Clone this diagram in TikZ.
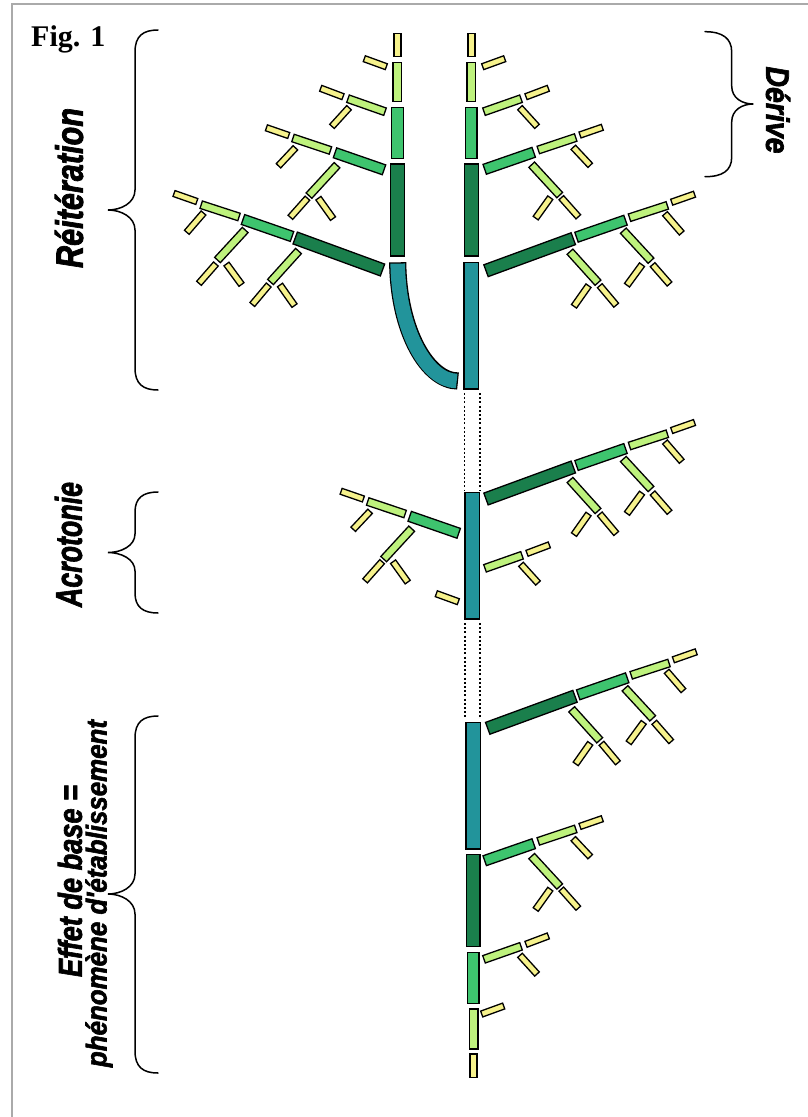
\documentclass[tikz,border=0pt]{standalone}
\usepackage{fontspec}
\setmainfont{Liberation Serif}
\newfontfamily\labfont{Liberation Sans}[BoldItalicFeatures={FakeBold=2.2}]
\usetikzlibrary{calc}
\definecolor{cy}{RGB}{246,242,140}
\definecolor{cl}{RGB}{190,242,125}
\definecolor{cm}{RGB}{62,196,110}
\definecolor{cd}{RGB}{26,127,76}
\definecolor{ct}{RGB}{34,148,155}
\definecolor{framegray}{RGB}{170,170,170}
\tikzset{
  seg/.style={draw=black,line width=1.3pt,line join=miter},
  bracepath/.style={draw=black,line width=1.5pt,line cap=round},
  lab/.style={inner sep=0pt},
  dotline/.style={draw=black,line width=1.9pt,dash pattern=on 1.9pt off 2.3pt}
}
% segment: x1 y1 x2 y2 halfwidth colour
\newcommand\sg[6]{\filldraw[seg,fill=#6] ($(#1,#2)!#5pt!90:(#3,#4)$) -- ($(#1,#2)!#5pt!-90:(#3,#4)$) -- ($(#3,#4)!#5pt!90:(#1,#2)$) -- ($(#3,#4)!#5pt!-90:(#1,#2)$) -- cycle;}
\newcommand\brY{\sg{0}{0}{22}{-8}{3.1}{cy}}
\newcommand\brL{%
  \sg{0}{0}{37}{-13}{3.9}{cl}%
  \sg{42}{-15}{64.3}{-23.4}{3.1}{cy}%
  \sg{36}{-4}{53}{14.7}{3.1}{cy}}
\newcommand\brM{%
  \sg{0}{0}{49}{-17}{5.2}{cm}%
  \sg{53.6}{-19.3}{91}{-31.8}{3.9}{cl}%
  \sg{95.3}{-34.3}{117.6}{-42}{3.1}{cy}%
  \sg{88.6}{-22}{105.5}{-4}{3.1}{cy}%
  \sg{47}{-4.6}{75}{25.8}{3.9}{cl}%
  \sg{65.6}{28.4}{51}{48.8}{3.1}{cy}%
  \sg{76.6}{28.4}{93.6}{47.5}{3.1}{cy}}
\newcommand\brD{%
  \sg{0}{0}{87.3}{-32}{6.3}{cd}%
  \sg{90.5}{-33.5}{139.5}{-50.5}{5.2}{cm}%
  \sg{143.5}{-53}{181.3}{-65.3}{3.9}{cl}%
  \sg{185.7}{-68.5}{208.5}{-76.5}{3.1}{cy}%
  \sg{179}{-57}{195.7}{-37.7}{3.1}{cy}%
  \sg{137.3}{-40}{165}{-10}{3.9}{cl}%
  \sg{156}{-6}{141}{14.5}{3.1}{cy}%
  \sg{166.6}{-6}{183.5}{13.3}{3.1}{cy}%
  \sg{84}{-19}{112}{12}{3.9}{cl}%
  \sg{102.5}{15}{88}{35.6}{3.1}{cy}%
  \sg{113.8}{15}{130.2}{34.5}{3.1}{cy}}
\begin{document}
\begin{tikzpicture}[x=1pt,y=-1pt]
\useasboundingbox (0,0) rectangle (808,1117);
\fill[white] (0,0) rectangle (808,1117);
\draw[framegray,line width=2pt] (12,1117) -- (12,4) -- (808,4);

% title
\node[lab,anchor=base west] (fig) at (31,46.5) {\fontsize{30}{30}\selectfont\bfseries Fig. 1};

% ---------- top tree: stems ----------
\sg{397.5}{33.3}{397.5}{56.7}{3.6}{cy}
\sg{397.3}{62.3}{397.3}{101.7}{4.4}{cl}
\sg{397.5}{107.3}{397.5}{158.3}{5.7}{cm}
\sg{397.5}{164}{397.5}{256}{6.8}{cd}
\draw[line width=17.2pt] (397.7,262.3) .. controls (398.5,332) and (428,381) .. (458,381);
\draw[ct,line width=14.6pt,shorten <=1.3pt,shorten >=1.3pt] (397.7,262.3) .. controls (398.5,332) and (428,381) .. (458,381);
\sg{471.5}{33.3}{471.5}{56.7}{3.6}{cy}
\sg{471.3}{62.3}{471.3}{101.7}{4.4}{cl}
\sg{471.3}{107.3}{471.3}{158.3}{5.7}{cm}
\sg{471.5}{164}{471.5}{256}{6.8}{cd}
\sg{471.3}{262.3}{471.3}{389}{7.4}{ct}
% top tree: branches right
\begin{scope}[shift={(482.7,66.7)}]\brY\end{scope}
\begin{scope}[shift={(484,111.7)}]\brL\end{scope}
\begin{scope}[shift={(484.7,169.3)}]\brM\end{scope}
\begin{scope}[shift={(486,270.7)}]\brD\end{scope}
% top tree: branches left (mirrored)
\begin{scope}[shift={(386.3,66.7)},xscale=-1]\brY\end{scope}
\begin{scope}[shift={(385,111.7)},xscale=-1]\brL\end{scope}
\begin{scope}[shift={(384,169.8)},xscale=-1]\brM\end{scope}
\begin{scope}[shift={(382.5,270)},xscale=-1]\brD\end{scope}

% ---------- middle tree ----------
\sg{472.3}{492.3}{472.3}{619}{7.4}{ct}
\begin{scope}[shift={(486,499)}]\brD\end{scope}
\begin{scope}[shift={(458.7,533.3)},xscale=-1]\brM\end{scope}
\begin{scope}[shift={(485,568.3)}]\brL\end{scope}
\begin{scope}[shift={(458.3,601.7)},xscale=-1]\brY\end{scope}

% ---------- bottom tree ----------
\sg{473.3}{722.3}{473.3}{849}{7.4}{ct}
\sg{473.3}{854.3}{473.3}{946.7}{6.8}{cd}
\sg{473.3}{952.3}{473.3}{1003.3}{5.7}{cm}
\sg{473.6}{1009}{473.6}{1049}{4.4}{cl}
\sg{473.5}{1054}{473.5}{1077.3}{3.6}{cy}
\begin{scope}[shift={(487.7,728.3)}]\brD\end{scope}
\begin{scope}[shift={(484.7,860.7)}]\brM\end{scope}
\begin{scope}[shift={(484,959.3)}]\brL\end{scope}
\begin{scope}[shift={(481.7,1014)}]\brY\end{scope}

% ---------- dotted links ----------
\coordinate (d1a) at (464.5,393); \coordinate (d1b) at (464.5,490);
\coordinate (d2a) at (479.8,393); \coordinate (d2b) at (479.8,490);
\coordinate (d3a) at (464.8,623); \coordinate (d3b) at (464.8,719);
\coordinate (d4a) at (480.2,623); \coordinate (d4b) at (480.2,719);
\draw[dotline] (d1a) -- (d1b);
\draw[dotline] (d2a) -- (d2b);
\draw[dotline] (d3a) -- (d3b);
\draw[dotline] (d4a) -- (d4b);

% ---------- braces ----------
\draw[bracepath] (158,30) .. controls (143,30) and (135,36) .. (135,52) -- (135,190) .. controls (135,203) and (121,210) .. (108,210) .. controls (121,210) and (135,217) .. (135,230) -- (135,368) .. controls (135,384) and (143,390) .. (158,390);
\draw[bracepath] (158,492) .. controls (143,492) and (135,498) .. (135,512) -- (135,534) .. controls (135,546) and (121,552.5) .. (108,552.5) .. controls (121,552.5) and (135,559) .. (135,571) -- (135,593) .. controls (135,607) and (143,613) .. (158,613);
\draw[bracepath] (158,716) .. controls (143,716) and (135,722) .. (135,738) -- (135,874) .. controls (135,887) and (121,894) .. (108,894) .. controls (121,894) and (135,901) .. (135,914) -- (135,1051) .. controls (135,1067) and (143,1073) .. (158,1073);
\draw[bracepath] (705,31.7) .. controls (722,31.7) and (731.7,38) .. (731.7,52) -- (731.7,86) .. controls (731.7,98) and (742,104) .. (753.3,104) .. controls (742,104) and (731.7,110) .. (731.7,122) -- (731.7,157) .. controls (731.7,171) and (722,176.7) .. (705,176.7);

% ---------- labels ----------
\node[lab,rotate=90] (reit) at (69,188) {\resizebox{160pt}{28pt}{\labfont\bfseries\itshape Réitération}};
\node[lab,rotate=90] (acro) at (68.5,544.5) {\resizebox{125pt}{27pt}{\labfont\bfseries\itshape Acrotonie}};
\node[lab,rotate=-90] (deri) at (778,110) {\resizebox{87pt}{24pt}{\labfont\bfseries\itshape Dérive}};
\node[lab,rotate=90] (eff1) at (70,881) {\resizebox{192pt}{24pt}{\labfont\bfseries\itshape Effet de base =}};
\node[lab,rotate=90] (eff2) at (99,893.5) {\resizebox{347pt}{21pt}{\labfont\bfseries\itshape phénomène d'établissement}};
\end{tikzpicture}
\end{document}
